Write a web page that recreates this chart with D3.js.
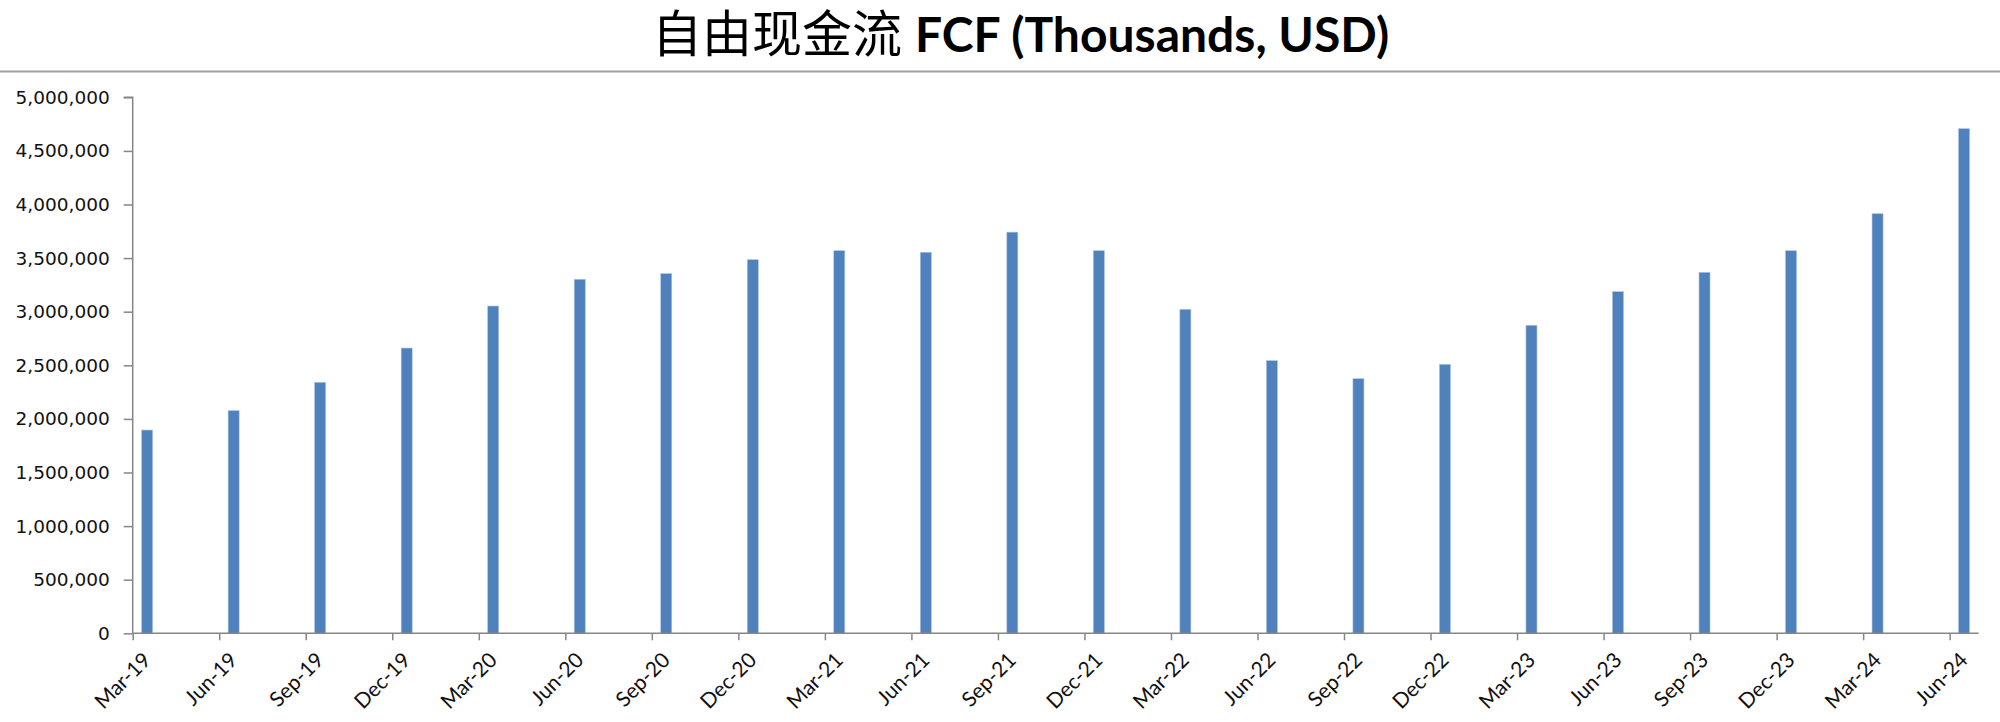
<!DOCTYPE html>
<html>
<head>
<meta charset="utf-8">
<script src="https://cdn.jsdelivr.net/npm/d3@7"></script>
<style>
  html, body { margin: 0; padding: 0; background: #fff; }
  svg { display: block; }
</style>
</head>
<body>
<svg id="chart" width="2000" height="722"></svg>
<script>
// ---- data ----
const quarters = ["Mar-19","Jun-19","Sep-19","Dec-19","Mar-20","Jun-20","Sep-20","Dec-20",
  "Mar-21","Jun-21","Sep-21","Dec-21","Mar-22","Jun-22","Sep-22","Dec-22",
  "Mar-23","Jun-23","Sep-23","Dec-23","Mar-24","Jun-24"];
const fcf = [1896000, 2077000, 2341000, 2661000, 3053000, 3302000, 3355000, 3485000,
  3569000, 3554000, 3742000, 3569000, 3022000, 2543000, 2375000, 2509000,
  2873000, 3187000, 3367000, 3569000, 3914000, 4707000];
const yTicks = [0, 500000, 1000000, 1500000, 2000000, 2500000, 3000000, 3500000, 4000000, 4500000, 5000000];
const monthsPerQuarter = 3;
const totalMonths = 64; // Mar-19 .. Jun-24 inclusive (monthly date axis)
const titleCn = "自由现金流";
const titleEn = "FCF (Thousands, USD)";

// ---- layout ----
const svg = d3.select("#chart");
const plotLeft = 132.7, plotRight = 1978.5, plotTop = 97.3, plotBottom = 633.3;

const x = d3.scaleLinear().domain([0, totalMonths]).range([plotLeft, plotRight]);
const y = d3.scaleLinear().domain([0, 5000000]).range([plotBottom, plotTop]);

const axisColor = "#868686";

// title
const title = svg.append("text")
  .attr("x", 652).attr("y", 52)
  .attr("fill", "#000");
title.append("tspan")
  .attr("font-family", "'Noto Sans CJK SC', sans-serif")
  .attr("font-size", 50)
  .attr("font-weight", 400)
  .text(titleCn);
title.append("tspan")
  .attr("font-family", "Lato, 'Open Sans', sans-serif")
  .attr("font-size", 48)
  .attr("font-weight", 700)
  .attr("dx", 13)
  .text(titleEn);

// separator line below title
svg.append("line")
  .attr("x1", 0).attr("x2", 2000)
  .attr("y1", 71.5).attr("y2", 71.5)
  .attr("stroke", "#a0a0a0").attr("stroke-width", 2);

// bars
const barW = 11;
svg.append("g").selectAll("rect")
  .data(fcf)
  .join("rect")
  .attr("x", (d, i) => x(i * monthsPerQuarter + 0.5) - barW / 2)
  .attr("y", d => y(d))
  .attr("width", barW)
  .attr("height", d => y(0) - y(d))
  .attr("fill", "#4f81bd")
  .attr("stroke", "#a9c1e0")
  .attr("stroke-width", 0.6);

// y axis
const yAxis = d3.axisLeft(y)
  .tickValues(yTicks)
  .tickSize(9)
  .tickPadding(14)
  .tickFormat(d3.format(","));
const gy = svg.append("g").attr("transform", `translate(${plotLeft},0)`).call(yAxis);
gy.select(".domain").attr("stroke", axisColor).attr("stroke-width", 1.5)
  .attr("d", `M-9,${plotTop}H0V${plotBottom}`);
gy.selectAll(".tick line").attr("stroke", axisColor).attr("stroke-width", 1.5);
gy.selectAll(".tick text")
  .attr("font-family", "'DejaVu Sans', Verdana, sans-serif")
  .attr("font-size", 18.5)
  .attr("fill", "#111");

// x axis
const xAxis = d3.axisBottom(x)
  .tickValues(quarters.map((q, i) => i * monthsPerQuarter))
  .tickSize(7)
  .tickFormat((d, i) => quarters[i]);
const gx = svg.append("g").attr("transform", `translate(0,${plotBottom})`).call(xAxis);
gx.select(".domain").attr("stroke", axisColor).attr("stroke-width", 1.5)
  .attr("d", `M${plotLeft},0H${plotRight}`);
gx.selectAll(".tick line").attr("stroke", axisColor).attr("stroke-width", 1.5);
gx.selectAll(".tick text")
  .attr("font-family", "Lato, 'Open Sans', sans-serif")
  .attr("font-size", 21)
  .attr("fill", "#111")
  .attr("text-anchor", "end")
  .attr("dy", null)
  .attr("y", 0)
  .attr("transform", "translate(19,28) rotate(-45)");
</script>
</body>
</html>
